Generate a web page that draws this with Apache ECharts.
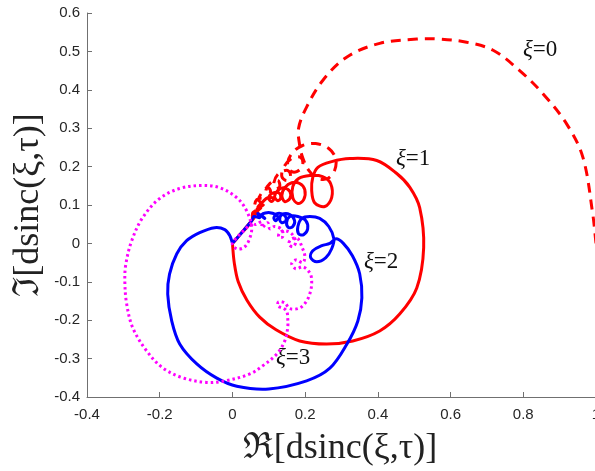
<!DOCTYPE html>
<html>
<head>
<meta charset="utf-8">
<title>dsinc</title>
<script src="https://cdn.jsdelivr.net/npm/echarts@6/dist/echarts.min.js"></script>
<style>
body{
margin:0;
background:#fff;
}
#chart{
width:595px;
height:471px;
}
</style>
</head>
<body>

<div id="chart"></div>

<script>

// axis ranges
const xRange = [-0.4, 1, 0.2]
const yRange = [-0.4, 0.6, 0.1]

// curve labels
const labels = ["ξ=0", "ξ=1", "ξ=2", "ξ=3"]

// xi = 0, red dashed (Re, Im) pairs
const xi0 = [
[1.0,0.0],[0.991,0.077],[0.964,0.224],[0.92,0.31],[0.854,0.39],[0.79,0.45],
[0.717,0.503],[0.644,0.524],[0.57,0.532],[0.507,0.532],[0.405,0.521],[0.314,0.485],
[0.249,0.425],[0.204,0.355],[0.182,0.3],[0.185,0.255],[0.193,0.224],[0.21,0.19],
[0.235,0.169],[0.262,0.169],[0.281,0.19],[0.284,0.221],[0.265,0.247],[0.229,0.26],
[0.193,0.255],[0.166,0.237],[0.152,0.211],[0.158,0.19],[0.177,0.187],[0.193,0.203],
[0.188,0.224],[0.163,0.221],[0.141,0.198],[0.136,0.174],[0.149,0.164],[0.16,0.174],
[0.152,0.19],[0.127,0.182],[0.114,0.158],[0.119,0.143],[0.13,0.148],[0.125,0.164],
[0.103,0.156],[0.092,0.138],[0.097,0.127],[0.105,0.135],[0.097,0.146],[0.081,0.132],
[0.072,0.114],[0.081,0.106],[0.084,0.117],[0.067,0.114],[0.061,0.096],[0.067,0.088],
[0.056,0.08],[0.053,0.059],[0.0,0.0]
]

// xi = 1, red solid
const xi1 = [
[0.0,0.0],[0.005,-0.05],[0.016,-0.1],[0.04,-0.148],[0.075,-0.192],[0.12,-0.225],
[0.185,-0.254],[0.259,-0.262],[0.331,-0.254],[0.405,-0.228],[0.46,-0.184],[0.507,-0.116],
[0.526,-0.011],[0.515,0.093],[0.488,0.146],[0.452,0.182],[0.397,0.216],[0.323,0.221],
[0.273,0.213],[0.235,0.198],[0.221,0.172],[0.218,0.138],[0.226,0.106],[0.254,0.096],
[0.273,0.119],[0.27,0.156],[0.248,0.174],[0.213,0.177],[0.182,0.169],[0.166,0.148],
[0.166,0.119],[0.18,0.104],[0.196,0.114],[0.199,0.14],[0.185,0.156],[0.163,0.158],
[0.144,0.145],[0.136,0.125],[0.144,0.109],[0.158,0.117],[0.158,0.135],[0.141,0.145],
[0.125,0.138],[0.116,0.122],[0.125,0.111],[0.133,0.119],[0.127,0.132],[0.108,0.13],
[0.1,0.117],[0.108,0.109],[0.114,0.117],[0.097,0.119],[0.084,0.109],[0.07,0.095],
[0.085,0.1],[0.068,0.09],[0.078,0.092],[0.062,0.08],[0.07,0.08],[0.056,0.07],
[0.06,0.068],[0.053,0.059],[0.0,0.0]
]

// xi = 2, blue solid
const xi2 = [
[0.0,0.0],[-0.007,0.02],[-0.021,0.036],[-0.049,0.041],[-0.09,0.028],[-0.126,0.007],
[-0.153,-0.027],[-0.173,-0.08],[-0.178,-0.132],[-0.167,-0.202],[-0.145,-0.262],[-0.098,-0.314],
[-0.043,-0.351],[0.012,-0.372],[0.1,-0.379],[0.204,-0.358],[0.268,-0.325],[0.315,-0.262],
[0.345,-0.202],[0.356,-0.142],[0.35,-0.079],[0.33,-0.032],[0.305,0.0],[0.285,0.012],
[0.268,0.0],[0.246,-0.006],[0.221,-0.019],[0.215,-0.037],[0.232,-0.048],[0.257,-0.037],
[0.273,-0.014],[0.279,0.012],[0.265,0.044],[0.24,0.065],[0.213,0.07],[0.191,0.065],
[0.18,0.044],[0.182,0.025],[0.196,0.023],[0.207,0.038],[0.202,0.059],[0.18,0.07],
[0.158,0.07],[0.149,0.054],[0.155,0.041],[0.166,0.044],[0.171,0.059],[0.158,0.075],
[0.136,0.075],[0.13,0.062],[0.136,0.054],[0.147,0.059],[0.144,0.072],[0.125,0.078],
[0.114,0.067],[0.119,0.059],[0.125,0.07],[0.103,0.08],[0.081,0.075],[0.089,0.065],
[0.07,0.078],[0.075,0.067],[0.059,0.07],[0.053,0.059],[0.0,0.0]
]

// xi = 3, magenta dotted
const xi3 = [
[0.053,0.054],[0.0,0.0],[0.012,-0.014],[0.031,-0.011],[0.045,0.007],[0.053,0.041],
[0.039,0.085],[0.012,0.119],[-0.035,0.145],[-0.082,0.151],[-0.145,0.143],[-0.2,0.117],
[-0.247,0.067],[-0.277,0.007],[-0.293,-0.053],[-0.296,-0.097],[-0.291,-0.157],[-0.274,-0.22],
[-0.236,-0.28],[-0.192,-0.324],[-0.137,-0.35],[-0.071,-0.362],[-0.02,-0.358],[0.048,-0.34],
[0.083,-0.319],[0.122,-0.288],[0.144,-0.254],[0.152,-0.22],[0.152,-0.194],[0.149,-0.176],
[0.138,-0.168],[0.125,-0.163],[0.127,-0.152],[0.144,-0.155],[0.158,-0.17],[0.185,-0.168],
[0.204,-0.15],[0.215,-0.124],[0.218,-0.097],[0.213,-0.077],[0.194,-0.061],[0.174,-0.066],
[0.163,-0.053],[0.174,-0.043],[0.194,-0.05],[0.199,-0.032],[0.191,-0.009],[0.18,0.012],
[0.163,0.012],[0.155,-0.001],[0.166,-0.009],[0.174,0.004],[0.163,0.025],[0.144,0.033],
[0.13,0.028],[0.127,0.017],[0.138,0.017],[0.136,0.036],[0.116,0.044],[0.103,0.038],
[0.097,0.054],[0.081,0.041],[0.081,0.057],[0.064,0.049],[0.053,0.054]
]

const serif = "'Liberation Serif','Times New Roman','DejaVu Serif',serif"

// cubic path through the projected points (cardinal style control points)
function smoothPath(pts, s){
let d = "M" + pts[0][0] + " " + pts[0][1]
for(let i=0;i<pts.length-1;i++){
const p0 = pts[Math.max(i-1,0)], p1 = pts[i], p2 = pts[i+1], p3 = pts[Math.min(i+2,pts.length-1)]
const a0 = Math.hypot(p1[0]-p0[0],p1[1]-p0[1]), a1 = Math.hypot(p2[0]-p1[0],p2[1]-p1[1])
const a2 = Math.hypot(p3[0]-p2[0],p3[1]-p2[1])
const r1 = a0+a1 ? a1/(a0+a1) : 0.5
const r2 = a1+a2 ? a1/(a1+a2) : 0.5
const c1x = p1[0]+(p2[0]-p0[0])*s*r1, c1y = p1[1]+(p2[1]-p0[1])*s*r1
const c2x = p2[0]-(p3[0]-p1[0])*s*r2, c2y = p2[1]-(p3[1]-p1[1])*s*r2
d += " C" + c1x + " " + c1y + " " + c2x + " " + c2y + " " + p2[0] + " " + p2[1]
}
return d
}

// one smooth path per curve, points placed through the cartesian scales
function curve(name, data, color, dash){
return {
name: name,
type: "custom",
coordinateSystem: "cartesian2d",
data: data,
encode: { x: 0, y: 1 },
clip: true,
silent: true,
renderItem: function(params, api){
if(params.dataIndex !== 0) return null
const pts = data.map(p => api.coord(p))
return {
type: "path",
shape: { pathData: smoothPath(pts, 0.35) },
style: { stroke: color, lineWidth: 3, lineDash: dash, lineCap: "butt", lineJoin: "round", fill: "none" }
}
}
}
}

function tag(text, x, y){
return {
type: "text",
left: x,
top: y,
style: {
text: "{i|" + text.slice(0, 1) + "}" + text.slice(1),
font: "23px " + serif,
fill: "#111",
rich: {
i: { fontStyle: "italic", fontFamily: "Liberation Serif", fontSize: 23, fill: "#111" }
}
}
}
}

const axisCommon = {
type: "value",
axisLine: { show: true, onZero: false, lineStyle: { color: "#707070", width: 1 } },
axisTick: { show: true, inside: true, length: 5, lineStyle: { color: "#707070" } },
splitLine: { show: false }
}

const chart = echarts.init(document.getElementById("chart"))

chart.setOption({
animation: false,
grid: { left: 87, top: 13, width: 509, height: 384, containLabel: false, outerBoundsMode: "none" },
xAxis: Object.assign({}, axisCommon, {
min: xRange[0], max: xRange[1], interval: xRange[2],
axisLabel: { color: "#262626", fontSize: 15, fontFamily: "Liberation Sans, Arial", margin: 10 }
}),
yAxis: Object.assign({}, axisCommon, {
min: yRange[0], max: yRange[1], interval: yRange[2],
axisLabel: { color: "#262626", fontSize: 15, fontFamily: "Liberation Sans, Arial", margin: 7 }
}),
series: [
curve(labels[0], xi0, "#ff0000", [10, 7]),
curve(labels[1], xi1, "#ff0000", null),
curve(labels[2], xi2, "#0000ff", null),
curve(labels[3], xi3, "#ff00ff", [2.5, 3])
],
graphic: [
tag(labels[0], 523, 38),
tag(labels[1], 396, 147),
tag(labels[2], 364, 250),
tag(labels[3], 276, 346),
{
type: "text",
x: 340, y: 449,
style: { text: "ℜ[dsinc(ξ,τ)]", font: "36px " + serif, fill: "#222", align: "center", verticalAlign: "middle" }
},
{
type: "text",
x: 29, y: 205,
rotation: Math.PI / 2,
style: { text: "ℑ[dsinc(ξ,τ)]", font: "36px " + serif, fill: "#222", align: "center", verticalAlign: "middle" }
}
]
})

</script>

</body>
</html>
